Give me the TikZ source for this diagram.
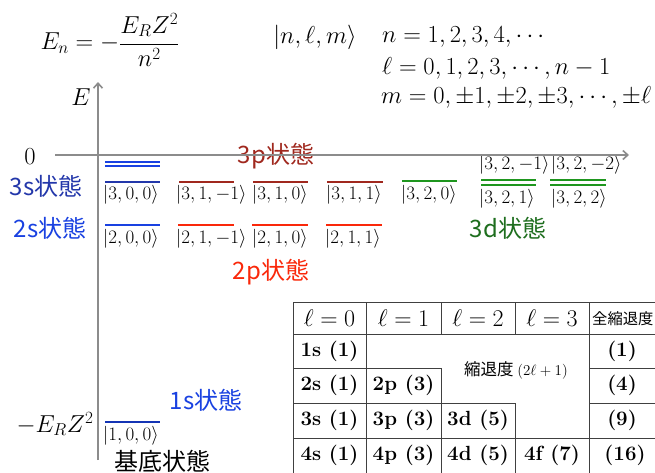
\RequirePackage{fix-cm}
\documentclass[tikz,border=0pt]{standalone}
\usepackage{fontspec}
\newfontfamily\jp{Noto Sans CJK JP}
\usetikzlibrary{arrows.meta}
\definecolor{axisgray}{RGB}{140,140,140}
\definecolor{sblue}{RGB}{35,55,170}
\definecolor{lblue}{RGB}{25,65,225}
\definecolor{pdark}{RGB}{160,40,30}
\definecolor{pred}{RGB}{250,40,10}
\definecolor{dgreen}{RGB}{30,150,30}
\definecolor{dtext}{RGB}{30,110,30}
\begin{document}
\begin{tikzpicture}[x=1pt,y=-1pt,
  lbl/.style={inner sep=0pt, font=\fontsize{19}{22}\selectfont},
  fml/.style={inner sep=0pt, font=\fontsize{24.5}{28}\selectfont},
  jpl/.style={inner sep=0pt, font=\jp\fontsize{24}{28}\selectfont},
  lvl/.style={line width=2pt},
  axis/.style={draw=axisgray, line width=1.6pt, -{Straight Barb[length=5pt,width=9pt]}},
  tbl/.style={draw=black!75, line width=1pt},
  cell/.style={inner sep=0pt, font=\fontsize{20.5}{24}\selectfont\bfseries},
  hcell/.style={inner sep=0pt, font=\fontsize{24}{28}\selectfont},
]
\useasboundingbox (0,0) rectangle (655,472);
\clip (0,0) rectangle (655,472);
\fill[white] (0,0) rectangle (655,472);

% formulas
\node[fml] (en) at (110,40) {$\displaystyle E_n=-\frac{E_RZ^2}{n^2}$};
\node[fml] (ket) at (315,37) {$|n,\ell,m\rangle$};
\node[fml, anchor=west] (nrange) at (382,37) {$n=1,2,3,4,\cdots$};
\node[fml, anchor=west] (lrange) at (382,68) {$\ell=0,1,2,3,\cdots,n-1$};
\node[fml, anchor=west] (mrange) at (381,97) {$m=0,\pm1,\pm2,\pm3,\cdots,\pm\ell$};

% axis labels
\node[fml] (elab) at (81,97) {$E$};
\node[fml] (zero) at (30,157) {$0$};
\node[fml] (erz) at (55,424) {$-E_RZ^2$};

% state texts
\node[jpl, text=sblue] (t3s) at (46,186) {3s状態};
\node[jpl, text=lblue] (t2s) at (50,228) {2s状態};
\node[jpl, text=pdark] (t3p) at (276,156) {3p状態};
\node[jpl, text=pred] (t2p) at (271,272) {2p状態};
\node[jpl, text=dtext] (t3d) at (508,228) {3d状態};
\node[jpl, text=lblue] (t1s) at (206,400) {1s状態};
\node[jpl] (tgnd) at (162,461) {基底状態};

% continuum lines
\draw[lvl, lblue] (105,161.5) -- (160,161.5);
\draw[lvl, lblue] (105,166) -- (160,166);

% n=3
\draw[lvl, sblue] (105,181.5) -- (160,181.5);
\node[lbl, anchor=north west] (k300) at (103,185) {$|3,0,0\rangle$};
\draw[lvl, pdark] (179,181.5) -- (234,181.5);
\node[lbl, anchor=north west] (k31m) at (176,185) {$|3,1,-1\rangle$};
\draw[lvl, pdark] (253,181.5) -- (308,181.5);
\node[lbl, anchor=north west] (k310) at (252,185) {$|3,1,0\rangle$};
\draw[lvl, pdark] (327,181.5) -- (383,181.5);
\node[lbl, anchor=north west] (k311) at (326,185) {$|3,1,1\rangle$};
\draw[lvl, dgreen] (402,180.5) -- (457,180.5);
\node[lbl, anchor=north west] (k320) at (401,185) {$|3,2,0\rangle$};
\draw[lvl, dgreen] (481,180) -- (536,180);
\draw[lvl, dgreen] (481,184.5) -- (536,184.5);
\node[lbl, anchor=south west] (k32m1) at (479,174) {$|3,2,-1\rangle$};
\node[lbl, anchor=north west] (k321) at (479,189) {$|3,2,1\rangle$};
\draw[lvl, dgreen] (550,180) -- (606,180);
\draw[lvl, dgreen] (550,184.5) -- (606,184.5);
\node[lbl, anchor=south west] (k32m2) at (551,174) {$|3,2,-2\rangle$};
\node[lbl, anchor=north west] (k322) at (551,189) {$|3,2,2\rangle$};

% n=2
\draw[lvl, lblue] (105,225) -- (160,225);
\node[lbl, anchor=north west] (k200) at (103,229) {$|2,0,0\rangle$};
\draw[lvl, pred] (178,225) -- (234,225);
\node[lbl, anchor=north west] (k21m) at (176,229) {$|2,1,-1\rangle$};
\draw[lvl, pred] (252,225) -- (308,225);
\node[lbl, anchor=north west] (k210) at (252,229) {$|2,1,0\rangle$};
\draw[lvl, pred] (326,225) -- (382,225);
\node[lbl, anchor=north west] (k211) at (325,229) {$|2,1,1\rangle$};

% n=1
\draw[lvl, lblue!80!black] (105,422) -- (160,422);
\node[lbl, anchor=north west] (k100) at (103,426) {$|1,0,0\rangle$};

% axes
\coordinate (hx0) at (55,155);
\coordinate (hx1) at (629,155);
\coordinate (vy0) at (98,460);
\coordinate (vy1) at (98,82);
\draw[axis] (hx0) -- (hx1);
\draw[axis] (vy0) -- (vy1);

% table
\fill[white] (293,302) rectangle (660,480);
\draw[tbl] (293,302) -- (660,302);
\draw[tbl] (293,334) -- (660,334);
\draw[tbl] (293,368) -- (441,368);
\draw[tbl] (589,368) -- (660,368);
\draw[tbl] (293,403) -- (515,403);
\draw[tbl] (589,403) -- (660,403);
\draw[tbl] (293,438) -- (660,438);
\draw[tbl] (293,302) -- (293,480);
\draw[tbl] (366,302) -- (366,480);
\draw[tbl] (441,302) -- (441,334);
\draw[tbl] (441,368) -- (441,480);
\draw[tbl] (515,302) -- (515,334);
\draw[tbl] (515,403) -- (515,480);
\draw[tbl] (589,302) -- (589,480);

\node[hcell] (h0) at (329.5,318) {$\ell=0$};
\node[hcell] (h1) at (403.5,318) {$\ell=1$};
\node[hcell] (h2) at (478,318) {$\ell=2$};
\node[hcell] (h3) at (552,318) {$\ell=3$};
\node[inner sep=0pt, anchor=west, font=\jp\fontsize{15.3}{18}\selectfont] (h4) at (592,319) {全縮退度};

\node[cell] (c1s) at (329.5,351) {1s (1)};
\node[cell] (c2s) at (329.5,385.5) {2s (1)};
\node[cell] (c3s) at (329.5,420.5) {3s (1)};
\node[cell] (c4s) at (329.5,455.5) {4s (1)};
\node[cell] (c2p) at (403.5,385.5) {2p (3)};
\node[cell] (c3p) at (403.5,420.5) {3p (3)};
\node[cell] (c4p) at (403.5,455.5) {4p (3)};
\node[cell] (c3d) at (478,420.5) {3d (5)};
\node[cell] (c4d) at (478,455.5) {4d (5)};
\node[cell] (c4f) at (552,455.5) {4f (7)};
\node[cell] (g1) at (622,351) {(1)};
\node[cell] (g2) at (622,385.5) {(4)};
\node[cell] (g3) at (622,420.5) {(9)};
\node[cell] (g4) at (625,455.5) {(16)};
\node[inner sep=0pt, font=\jp\fontsize{16.5}{18}\selectfont] (deg) at (516,370) {縮退度 {\fontsize{15}{17}\selectfont$(2\ell+1)$}};
\end{tikzpicture}
\end{document}
